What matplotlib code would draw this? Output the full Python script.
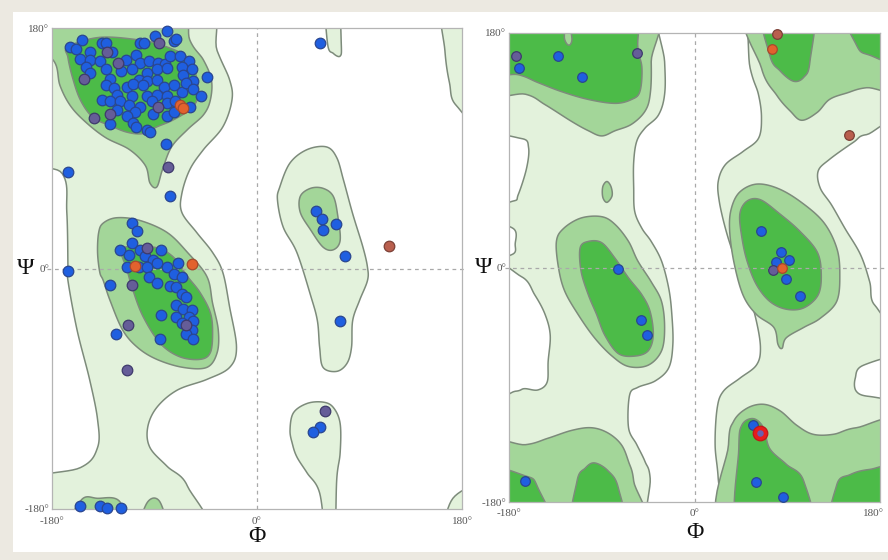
import numpy as np
import matplotlib
matplotlib.use("Agg")
import matplotlib.pyplot as plt
from matplotlib.patches import Polygon, Rectangle
from matplotlib.transforms import ScaledTranslation

plt.rcParams['font.family'] = ['Liberation Serif', 'DejaVu Serif']

# ---- region outlines (phi, psi in degrees) ----

# left plot
LEFT_LIGHT = [
    [(-180, 180), (-53, 180), (-35, 163), (-24, 141), (-22, 126), (-30, 106), (-47, 89), (-59, 74),
     (-66, 56), (-66, 42), (-53, 27), (-39, 12), (-30, -3), (-24, -29), (-18, -59), (-24, -74),
     (-44, -83), (-70, -91), (-88, -104), (-96, -119), (-94, -134), (-79, -148), (-61, -163),
     (-50, -180), (-180, -180), (-180, -161), (-155, -149), (-140, -134), (-140, -113), (-147, -83),
     (-158, -46), (-166, -9), (-166, 1), (-167, 42), (-171, 71), (-180, 91)],
    [(60, 180), (62, 168), (67, 161), (73, 159), (74, 168), (71, 180)],
    [(163, 180), (165, 163), (169, 139), (175, 122), (180, 106), (180, 180)],
    [(167, -180), (172, -172), (180, -163), (180, -180)],
    [(20, 61), (29, 79), (44, 89), (61, 91), (70, 83), (76, 66), (84, 41), (93, 16), (97, 1),
     (97, -9), (90, -24), (84, -39), (83, -59), (79, -71), (70, -77), (58, -74), (55, -59),
     (53, -39), (47, -20), (35, 12), (23, 31), (18, 51)],
    [(29, -121), (32, -108), (44, -101), (58, -100), (67, -104), (73, -116), (73, -138), (70, -158),
     (68, -180), (61, -180), (55, -168), (44, -153), (35, -141), (31, -131)],
]
LEFT_MED = [
    [(-174, 180), (-72, 180), (-59, 171), (-47, 156), (-40, 141), (-41, 126), (-47, 115), (-61, 104),
     (-75, 91), (-83, 74), (-88, 61), (-94, 64), (-98, 77), (-112, 89), (-133, 98), (-151, 110),
     (-164, 122), (-173, 137), (-179, 156), (-180, 170)],
    [(-123, 38), (-135, 34), (-139, 27), (-140, 12), (-138, -3), (-135, -9), (-129, -24), (-118, -46),
     (-105, -59), (-88, -68), (-65, -74), (-44, -74), (-35, -63), (-34, -46), (-39, -26), (-44, -6),
     (-61, 12), (-79, 27), (-103, 36)],
    [(38, 54), (47, 60), (58, 60), (67, 54), (71, 39), (73, 21), (67, 14), (58, 16), (47, 29), (38, 42)],
    [(-169, -180), (-155, -174), (-140, -172), (-120, -175), (-114, -180)],
    [(-105, -180), (-97, -176), (-85, -175), (-78, -180)],
]
LEFT_DARK = [
    [(-166, 166), (-138, 173), (-103, 171), (-83, 167), (-61, 158), (-53, 143), (-52, 128), (-59, 119),
     (-74, 111), (-88, 106), (-100, 101), (-114, 102), (-129, 107), (-144, 113), (-155, 126),
     (-162, 143), (-166, 158)],
    [(-118, 15), (-91, 16), (-74, 9), (-61, -6), (-50, -18), (-41, -33), (-39, -48), (-41, -63),
     (-50, -68), (-68, -66), (-85, -56), (-100, -36), (-109, -16), (-114, -1)],
]

# right plot (background is the light level, white holes cut out)
RIGHT_WHITE = [
    [(-33, 180), (-29, 158), (-29, 133), (-35, 117), (-48, 107), (-56, 97), (-59, 81), (-59, 61),
     (-58, 43), (-51, 30), (-42, 20), (-32, 5), (-25, -16), (-22, -36), (-21, -59), (-25, -77),
     (-38, -87), (-55, -92), (-63, -98), (-64, -123), (-56, -136), (-48, -149), (-43, -162),
     (-42, -180), (25, -180), (23, -162), (20, -136), (22, -108), (28, -95), (44, -85), (60, -75),
     (64, -62), (60, -41), (51, -16), (38, 10), (30, 30), (24, 51), (23, 66), (30, 79), (47, 89),
     (62, 99), (65, 115), (62, 133), (54, 153), (41, 180)],
    [(-180, 98), (-168, 99), (-161, 92), (-163, 76), (-171, 56), (-176, 51), (-180, 50)],
    [(-180, 34), (-176, 30), (-174, 18), (-177, 10), (-180, 7)],
    [(-180, 0), (-168, -7), (-155, -21), (-145, -36), (-140, -52), (-142, -72), (-143, -88),
     (-152, -94), (-165, -93), (-174, -95), (-180, -96)],
    [(180, 102), (167, 102), (154, 96), (131, 83), (120, 74), (122, 61), (133, 48), (146, 30),
     (161, 10), (170, -11), (175, -29), (180, -41)],
    [(180, -69), (164, -75), (156, -85), (157, -95), (170, -99), (180, -99)],
]
RIGHT_MED = [
    [(-180, 180), (-45, 180), (-42, 158), (-43, 133), (-48, 120), (-61, 110), (-77, 105), (-90, 101),
     (-103, 105), (-119, 112), (-145, 125), (-164, 133), (-180, 137)],
    [(-85, 66), (-81, 62), (-80, 55), (-85, 50), (-89, 54), (-89, 62)],
    [(-134, 20), (-127, 30), (-110, 38), (-90, 39), (-77, 33), (-64, 20), (-55, 5), (-42, -11),
     (-32, -26), (-29, -46), (-32, -64), (-45, -75), (-64, -76), (-80, -68), (-97, -54), (-113, -36),
     (-126, -18), (-132, 0)],
    [(-180, -137), (-164, -136), (-142, -131), (-119, -125), (-100, -123), (-84, -127), (-71, -136),
     (-64, -149), (-59, -164), (-56, -180), (-180, -180)],
    [(55, 180), (65, 153), (80, 132), (93, 120), (104, 113), (119, 119), (131, 129), (148, 134),
     (167, 138), (180, 139), (180, 180)],
    [(36, 46), (44, 58), (60, 64), (80, 61), (102, 51), (125, 35), (138, 15), (141, -5), (138, -26),
     (122, -39), (106, -46), (89, -54), (85, -62), (81, -59), (77, -46), (60, -36), (47, -21),
     (38, 5), (34, 30)],
    [(33, -180), (33, -136), (38, -118), (51, -108), (67, -105), (83, -110), (99, -121), (115, -128),
     (135, -128), (157, -123), (180, -121), (180, -180)],
]
RIGHT_DARK = [
    [(-180, 180), (-132, 180), (-126, 175), (-119, 174), (-118, 180), (-59, 180), (-55, 169),
     (-51, 153), (-53, 135), (-61, 129), (-77, 126), (-103, 129), (-129, 135), (-152, 142),
     (-171, 148), (-180, 152)],
    [(144, 180), (157, 171), (170, 163), (180, 158), (180, 180)],
    [(-111, 15), (-103, 20), (-90, 19), (-77, 7), (-64, -8), (-51, -21), (-43, -34), (-40, -52),
     (-45, -64), (-58, -68), (-74, -66), (-87, -52), (-95, -36), (-103, -21), (-110, -3)],
    [(-180, -156), (-164, -160), (-152, -169), (-139, -180), (-180, -180)],
    [(-118, -180), (-114, -164), (-106, -154), (-97, -150), (-84, -156), (-74, -169), (-69, -180)],
    [(65, 180), (73, 163), (83, 151), (96, 143), (106, 146), (112, 158), (114, 180)],
    [(44, 41), (51, 51), (64, 52), (83, 41), (102, 28), (119, 12), (123, -5), (120, -21), (106, -31),
     (89, -32), (73, -26), (60, -13), (51, 5), (46, 23)],
    [(44, -180), (43, -139), (46, -121), (57, -116), (67, -123), (73, -139), (89, -151), (106, -164),
     (112, -180)],
    [(135, -180), (138, -167), (151, -159), (170, -155), (180, -154), (180, -180)],
]

# ---- residues (phi, psi) ----
LEFT_BLUE = [
    (-164, 166), (-159, 164), (-154, 171), (-147, 162), (-136, 169), (-133, 169), (-103, 169),
    (-99, 169), (-90, 174), (-79, 178), (-73, 170), (-71, 172), (-155, 157), (-147, 156), (-127, 162),
    (-138, 155), (-115, 156), (-106, 160), (-103, 154), (-95, 155), (-87, 154), (-81, 153), (-76, 159),
    (-68, 159), (-60, 155), (-66, 151), (-150, 151), (-147, 146), (-133, 149), (-129, 142), (-119, 148),
    (-110, 149), (-97, 146), (-88, 149), (-79, 150), (-65, 145), (-57, 149), (-44, 143), (-56, 140),
    (-104, 141), (-97, 140), (-133, 137), (-126, 135), (-114, 136), (-109, 138), (-100, 137), (-88, 141),
    (-82, 136), (-73, 137), (-66, 132), (-62, 139), (-56, 134), (-49, 129), (-97, 129), (-88, 130),
    (-79, 129), (-123, 130), (-110, 129), (-136, 126), (-129, 125), (-120, 125), (-112, 122),
    (-103, 121), (-92, 125), (-79, 124), (-72, 125), (-59, 121), (-123, 119), (-107, 117), (-91, 116),
    (-79, 114), (-73, 117), (-129, 108), (-114, 114), (-109, 109), (-106, 106), (-97, 104), (-94, 102),
    (-80, 93), (-166, 72), (-76, 54), (55, 169), (52, 43), (57, 37), (58, 29), (69, 33), (77, 9),
    (-166, -2), (73, -39), (55, -119), (49, -122),
    (-110, 34), (-105, 28), (-110, 19), (-120, 14), (-112, 10), (-103, 14), (-98, 9), (-91, 6),
    (-84, 14), (-69, 4), (-114, 1), (-104, 1), (-97, 1), (-88, 4), (-79, 1), (-73, -4), (-66, -6),
    (-95, -6), (-129, -12), (-88, -11), (-76, -13), (-71, -14), (-66, -19), (-62, -21), (-71, -27),
    (-65, -30), (-57, -31), (-60, -36), (-71, -36), (-66, -41), (-56, -39), (-57, -46), (-62, -49),
    (-56, -53), (-84, -35), (-85, -53), (-124, -49),
    (-155, -178), (-138, -178), (-132, -179), (-119, -179),
]
LEFT_GREY = [(-86, 169), (-132, 162), (-122, 154), (-152, 142), (-87, 121), (-143, 113), (-129, 116),
             (-78, 76), (-97, 15), (-110, -12), (-62, -42), (-113, -42), (-114, -76), (60, -107)]
LEFT_ORANGE = [(-68, 122), (-65, 120), (-57, 3), (-107, 2)]
LEFT_BROWN = [(116, 17)]

RIGHT_BLUE = [(-170, 153), (-132, 162), (-109, 146), (-74, -1), (-52, -40), (-46, -52), (-164, -164),
              (65, 28), (84, 12), (79, 4), (92, 6), (89, -9), (102, -22), (57, -121), (60, -165),
              (86, -176)]
RIGHT_GREY = [(-173, 162), (-56, 165), (76, -2)]
RIGHT_ORANGE = [(75, 168), (85, 0)]
RIGHT_BROWN = [(80, 179), (150, 102)]
RIGHT_RED = [(64, -127)]

TICKS = [-180, 0, 180]
TICK_LABELS = ['-180°', '0°', '180°']

LIGHT = '#e3f2dc'
MED = '#a3d699'
DARK = '#4cbb48'
LINE = '#7d8b7b'


def smooth(pts, n=12):
    # closed Catmull-Rom curve; vertices on the frame are pushed outside so the
    # curve doesn't sag into the plot along the border
    p = np.array(pts, float)
    p[p >= 180] = 205
    p[p <= -180] = -205
    p0, p1, p2, p3 = np.roll(p, 1, 0), p, np.roll(p, -1, 0), np.roll(p, -2, 0)
    t = np.linspace(0, 1, n, endpoint=False)[:, None, None]
    c = 0.5 * (2 * p1 + (p2 - p0) * t + (2 * p0 - 5 * p1 + 4 * p2 - p3) * t ** 2
               + (3 * p1 - p0 - 3 * p2 + p3) * t ** 3)
    return c.transpose(1, 0, 2).reshape(-1, 2)


def regions(ax, shapes, face, z):
    for s in shapes:
        ax.add_patch(Polygon(smooth(s), closed=True, facecolor=face, edgecolor=LINE,
                             lw=1.1, zorder=z))


def dots(ax, pts, color, edge, size, z=10):
    pts = np.array(pts)
    ax.scatter(pts[:, 0], pts[:, 1], s=size, c=color, edgecolors=edge, linewidths=0.9,
               zorder=z, clip_on=False)


def frame(ax, xlab_y, ylab_x, xpad):
    ax.set_xlim(-180, 180)
    ax.set_ylim(-180, 180)
    ax.set_xticks(TICKS, TICK_LABELS)
    ax.set_yticks(TICKS, TICK_LABELS)
    ax.tick_params(axis='x', length=0, labelsize=8, labelcolor='#555555', pad=xpad)
    ax.tick_params(axis='y', length=0, labelsize=8, labelcolor='#555555', pad=2)
    for sp in ax.spines.values():
        sp.set_color('#b4b4b4')
        sp.set_linewidth(0.9)
        sp.set_zorder(6)
    ax.axhline(0, -0.012, 1.012, color='#a9a9a9', lw=0.9, ls=(0, (3, 3)), zorder=5, clip_on=False)
    ax.axvline(0, color='#a9a9a9', lw=0.9, ls=(0, (3, 3)), zorder=5)
    ax.set_xlabel('Φ', fontsize=17, color='#111111')
    ax.set_ylabel('Ψ', fontsize=17, color='#111111', rotation=0)
    ax.xaxis.set_label_coords(0.5, xlab_y)
    ax.yaxis.set_label_coords(ylab_x, 0.5)
    ax.xaxis.label.set_va('center')
    ax.yaxis.label.set_va('center')
    ax.yaxis.label.set_ha('center')


fig = plt.figure(figsize=(8.88, 5.6), dpi=100)
fig.patch.set_facecolor('#ece9e1')
fig.add_artist(Rectangle((13 / 888, 8 / 560), 1 - 13 / 888, 540 / 560, transform=fig.transFigure,
                         facecolor='white', edgecolor='none', zorder=-5))

ax1 = fig.add_axes([52 / 888, 51 / 560, 410 / 888, 481 / 560])
ax1.set_facecolor('white')
regions(ax1, LEFT_LIGHT, LIGHT, 1)
regions(ax1, LEFT_MED, MED, 2)
regions(ax1, LEFT_DARK, DARK, 3)
frame(ax1, -0.058, -0.064, 6)
dots(ax1, LEFT_BLUE, '#1f5fe0', '#2a4690', 58)
dots(ax1, LEFT_GREY, '#655d98', '#3e3a6c', 58)
dots(ax1, LEFT_ORANGE, '#e2622e', '#a64a2c', 58)
dots(ax1, LEFT_BROWN, '#b95f4e', '#7c4036', 58)

ax2 = fig.add_axes([509 / 888, 58 / 560, 371 / 888, 469 / 560])
ax2.set_facecolor(LIGHT)
regions(ax2, RIGHT_WHITE, 'white', 1)
regions(ax2, RIGHT_MED, MED, 2)
regions(ax2, RIGHT_DARK, DARK, 3)
frame(ax2, -0.064, -0.067, 5)
dots(ax2, RIGHT_BLUE, '#1f5fe0', '#2a4690', 48)
dots(ax2, RIGHT_GREY, '#655d98', '#3e3a6c', 48)
dots(ax2, RIGHT_ORANGE, '#e2622e', '#a64a2c', 48)
dots(ax2, RIGHT_BROWN, '#b95f4e', '#7c4036', 48)
dots(ax2, RIGHT_RED, '#e81c1c', '#c01818', 110)
dots(ax2, RIGHT_RED, '#6a5fb0', '#6a5fb0', 14, z=11)

# keep the last phi label inside the canvas
last = ax2.get_xticklabels()[-1]
last.set_transform(last.get_transform() + ScaledTranslation(-5 / 72, 0, fig.dpi_scale_trans))

fig.savefig('out.png', dpi=100, facecolor=fig.get_facecolor())
